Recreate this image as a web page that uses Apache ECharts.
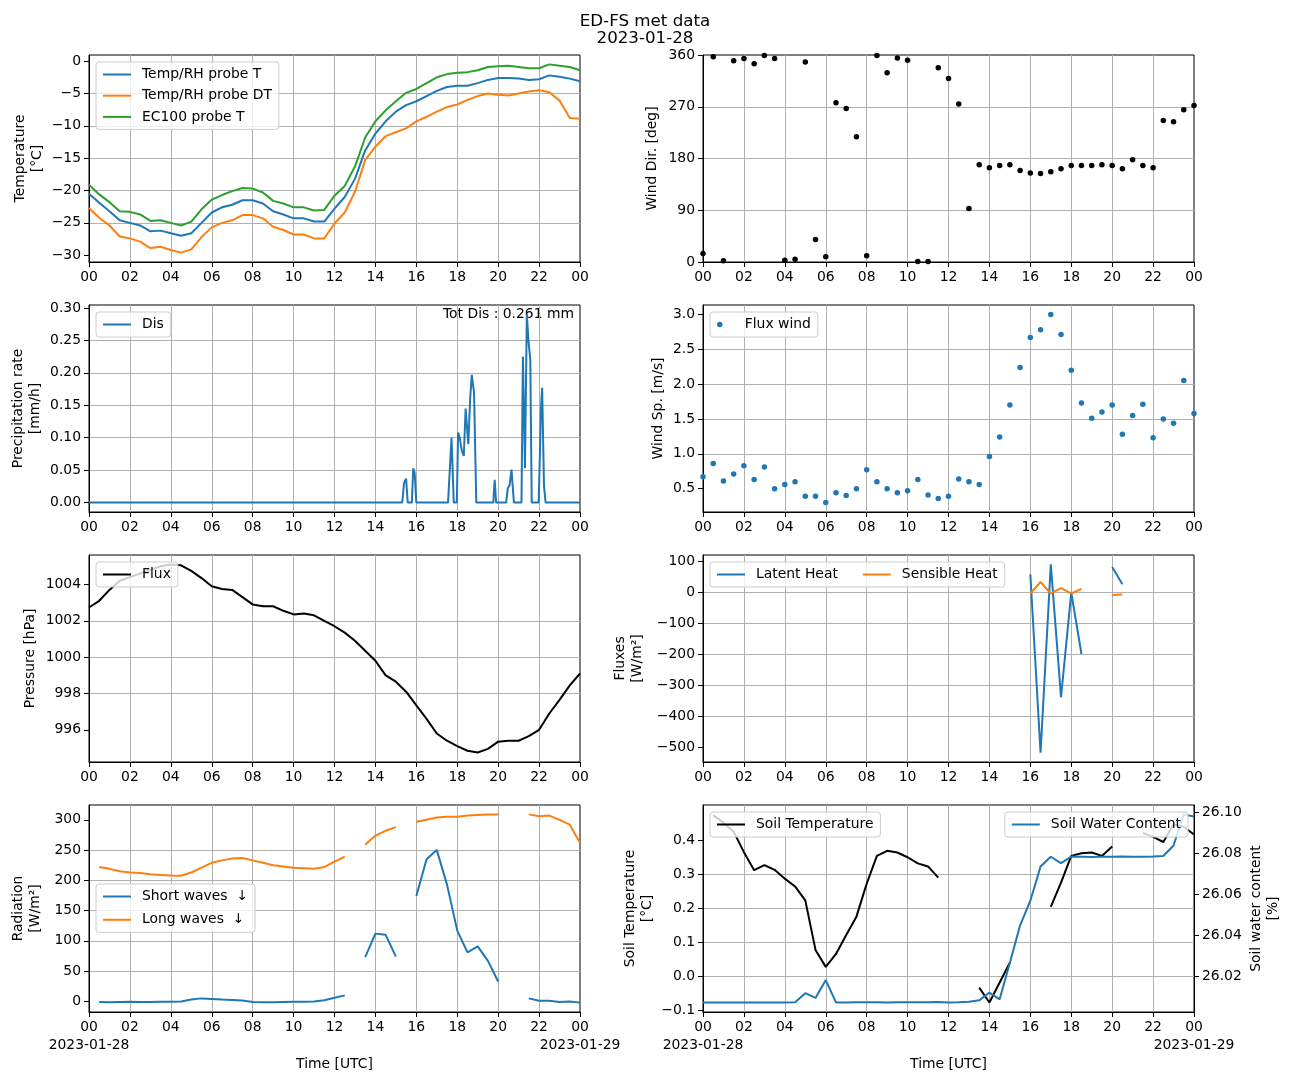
<!DOCTYPE html>
<html>
<head>
<meta charset="utf-8">
<title>ED-FS met data</title>
<script src="https://cdn.jsdelivr.net/npm/echarts@6/dist/echarts.min.js"></script>
<style>
  html, body { margin: 0; padding: 0; background: #fff; }
  #chart { width: 1290px; height: 1082px; }
</style>
</head>
<body>
<div id="chart"></div>
<script>
// time stamps, hours since 2023-01-28 00:00 UTC
var halfHours = [0,0.5,1,1.5,2,2.5,3,3.5,4,4.5,5,5.5,6,6.5,7,7.5,8,8.5,9,9.5,10,10.5,11,11.5,
  12,12.5,13,13.5,14,14.5,15,15.5,16,16.5,17,17.5,18,18.5,19,19.5,20,20.5,21,21.5,22,22.5,23,23.5,24];
var dateHours = [0, 24];
var dateLabels = ['2023-01-28', '2023-01-29'];

// temperatures [°C]
var probeT = [-20.5,-21.9,-23.2,-24.6,-25.0,-25.4,-26.3,-26.2,-26.6,-27.0,-26.6,-25.0,-23.4,-22.6,-22.2,-21.5,-21.5,-22.0,-23.2,-23.7,-24.3,-24.3,-24.8,-24.8,
  -22.8,-21.0,-18.2,-13.8,-11.2,-9.3,-7.8,-6.8,-6.2,-5.4,-4.6,-4.0,-3.8,-3.8,-3.4,-2.9,-2.6,-2.6,-2.7,-2.9,-2.8,-2.2,-2.4,-2.7,-3.1];
var probeDT = [-22.7,-24.2,-25.4,-27.1,-27.4,-27.9,-28.9,-28.7,-29.2,-29.6,-29.1,-27.2,-25.7,-25.0,-24.6,-23.8,-23.8,-24.3,-25.6,-26.1,-26.8,-26.8,-27.4,-27.4,
  -25.1,-23.4,-20.2,-15.3,-13.2,-11.6,-11.0,-10.4,-9.3,-8.6,-7.8,-7.1,-6.7,-6.0,-5.4,-5.0,-5.2,-5.3,-5.0,-4.7,-4.5,-4.8,-6.1,-8.8,-8.9];
var ec100T = [-19.1,-20.6,-21.8,-23.2,-23.3,-23.7,-24.7,-24.6,-25.0,-25.4,-24.8,-22.9,-21.4,-20.7,-20.1,-19.6,-19.7,-20.3,-21.6,-22.0,-22.6,-22.6,-23.1,-23.0,
  -20.8,-19.3,-16.3,-11.8,-9.3,-7.6,-6.2,-4.9,-4.3,-3.4,-2.5,-2.0,-1.8,-1.7,-1.4,-0.9,-0.8,-0.7,-0.9,-1.1,-1.1,-0.5,-0.7,-0.9,-1.4];
var tempTicks = [-30,-25,-20,-15,-10,-5,0];

// wind direction [deg]
var windDir = [15,357,2,350,354,345,359,354,3,5,348,39,9,277,267,218,11,359,329,355,351,1,1,338,
  319,275,93,169,164,168,169,159,155,154,157,162,168,168,168,169,168,162,178,168,164,246,244,265,272];
var dirTicks = [0,90,180,270,360];

// precipitation rate [mm/h]
var disHours = [0,15.31,15.4,15.5,15.58,15.78,15.85,15.92,16.0,17.55,17.72,17.83,17.98,18.04,18.12,18.22,18.32,18.41,18.54,18.63,18.71,18.82,18.93,
  19.76,19.83,19.9,20.39,20.47,20.56,20.65,20.77,21.14,21.21,21.31,21.4,21.48,21.57,21.64,21.98,22.1,22.15,22.24,22.32,24];
var disRate = [0,0,0.03,0.037,0,0,0.053,0.045,0,0,0.1,0,0,0.108,0.1,0.08,0.072,0.145,0.09,0.16,0.197,0.17,0,
  0,0.035,0,0,0.022,0.027,0.051,0,0,0.225,0.053,0.29,0.25,0.22,0,0,0.15,0.177,0.025,0,0];
var disTicks = [0,0.05,0.10,0.15,0.20,0.25,0.30];
var totDis = '0.261';

// wind speed [m/s]
var windSp = [0.67,0.86,0.61,0.71,0.83,0.63,0.81,0.50,0.56,0.60,0.39,0.39,0.30,0.44,0.40,0.50,0.77,0.60,0.50,0.44,0.47,0.63,0.41,0.36,
  0.39,0.64,0.60,0.56,0.96,1.24,1.70,2.24,2.67,2.78,3.00,2.71,2.20,1.73,1.51,1.60,1.70,1.28,1.55,1.71,1.23,1.50,1.44,2.05,1.58];
var spTicks = [0.5,1.0,1.5,2.0,2.5,3.0];

// pressure [hPa]
var pressure = [1002.73,1003.1,1003.7,1004.2,1004.4,1004.6,1004.8,1005.0,1005.1,1005.05,1004.75,1004.35,1003.9,1003.75,1003.7,1003.3,1002.9,1002.8,1002.8,1002.55,1002.35,1002.4,1002.3,1002.0,
  1001.7,1001.35,1000.9,1000.35,999.8,999.0,998.65,998.1,997.35,996.6,995.8,995.4,995.1,994.85,994.75,994.95,995.35,995.4,995.4,995.65,996.0,996.9,997.65,998.45,999.1];
var presTicks = [996,998,1000,1002,1004];

// turbulent fluxes [W/m2]
var fluxHours = [16,16.5,17,17.5,18,18.5,19,19.5,20,20.5];
var latentHeat = [57,-518,89,-339,-2,-200,null,null,80,25];
var sensibleHeat = [-5,32,-5,12,-5,10,null,null,-10,-8];
var fluxTicks = [-500,-400,-300,-200,-100,0,100];

// downwelling radiation [W/m2]
var shortWaves = [null,-1,-1.5,-1,-0.5,-1,-1,-0.5,-0.5,0,3,5,4,3,2.5,1.5,-1,-1.5,-1.5,-1,-0.5,-0.5,0,2,
  6,10,null,73,112,110,74,null,174,235,250,193,117,81,91,67,33,null,null,5,1,1,-1,0,-2];
var longWaves = [null,222,219,215,213,212,210,209,208,207.5,213,221,229,233,236,237,233,229,225,223,221,220,219,222,
  231,239,null,259,274,282,288,null,297,300,304,305,305,307,308,309,309,null,null,309,306,307,300,292,262];
var radTicks = [0,50,100,150,200,250,300];

// soil
var soilTemp = [null,0.474,0.452,0.425,0.365,0.312,0.327,0.313,0.287,0.264,0.223,0.077,0.027,0.065,0.121,0.175,0.272,0.354,0.369,0.364,0.35,0.332,0.323,0.29,
  null,null,null,-0.034,-0.078,-0.019,0.039,null,null,null,0.204,0.275,0.354,0.362,0.364,0.354,0.382,null,null,0.422,0.41,0.395,0.447,0.44,0.417];
var soilWater = [26.0070,26.0071,26.0071,26.0071,26.0071,26.0071,26.0070,26.0071,26.0071,26.0072,26.0116,26.0093,26.0180,26.0071,26.0071,26.0072,26.0072,26.0072,26.0071,26.0072,26.0072,26.0072,26.0072,26.0073,
  26.0071,26.0072,26.0074,26.0081,26.0119,26.0086,26.0265,26.0448,26.0568,26.0735,26.0783,26.0752,26.0784,26.0783,26.0782,26.0783,26.0783,26.0784,26.0783,26.0783,26.0784,26.0787,26.0838,26.0990,26.0980];
var soilTTicks = [-0.1,0.0,0.1,0.2,0.3,0.4];
var soilWTicks = [26.02,26.04,26.06,26.08,26.10];

var FONT = 'DejaVu Sans';
var FS = 13.9;
var GRID_COLOR = '#b0b0b0';
var C0 = '#1f77b4', C1 = '#ff7f0e', C2 = '#2ca02c';

function zip(xs, ys) {
  return xs.map(function (x, i) { return [x, ys[i] == null ? '-' : ys[i]]; });
}

function fmtNum(v, d) {
  var s = v.toFixed(d);
  if (s.charAt(0) === '-') s = parseFloat(s) === 0 ? s.slice(1) : '\u2212' + s.slice(1);
  return s;
}

var colLeft = [89, 703];
var rowTop = [55, 305, 555, 805];
var plotW = 491, plotH = 207;

var grids = [];
rowTop.forEach(function (top) {
  colLeft.forEach(function (left) {
    grids.push({
      left: left, top: top, width: plotW, height: plotH,
      show: true, borderColor: '#000', borderWidth: 1, backgroundColor: 'transparent',
      containLabel: false, outerBoundsMode: 'none'
    });
  });
});

var nameStyle = { color: '#000', fontFamily: FONT, fontSize: FS, lineHeight: 17 };

function xAxisCfg(gridIndex, bottomRow) {
  return {
    type: 'value', gridIndex: gridIndex, position: 'bottom', min: 0, max: 24, interval: 2,
    axisLine: { show: true, onZero: false, lineStyle: { color: '#000', width: 1 } },
    axisTick: { show: true, length: 5, lineStyle: { color: '#000' } },
    axisLabel: {
      color: '#000', fontFamily: FONT, fontSize: FS, margin: 8,
      showMinLabel: true, showMaxLabel: true, hideOverlap: false,
      formatter: function (v) { return String(v % 24).padStart(2, '0'); }
    },
    splitLine: { show: true, showMinLine: false, showMaxLine: false, lineStyle: { color: GRID_COLOR, width: 1 } },
    name: bottomRow ? 'Time [UTC]' : '', nameLocation: 'middle', nameGap: 44, nameTextStyle: nameStyle
  };
}

// second label row under the bottom plots: the dates at both ends of the day
function dateAxisCfg(gridIndex) {
  return {
    type: 'value', gridIndex: gridIndex, position: 'bottom', min: 0, max: 24,
    axisLine: { show: false, onZero: false },
    axisTick: { show: false, customValues: dateHours },
    splitLine: { show: false },
    axisLabel: {
      customValues: dateHours, color: '#000', fontFamily: FONT, fontSize: FS, margin: 26,
      showMinLabel: true, showMaxLabel: true, hideOverlap: false,
      formatter: function (v) { return dateLabels[dateHours.indexOf(v)]; }
    }
  };
}

function yAxisCfg(gridIndex, min, max, ticks, dec, name, gap, position, gridOn) {
  return {
    type: 'value', gridIndex: gridIndex, position: position || 'left', min: min, max: max,
    axisLine: { show: true, onZero: false, lineStyle: { color: '#000', width: 1 } },
    axisTick: { show: true, length: 5, customValues: ticks, lineStyle: { color: '#000' } },
    axisLabel: {
      customValues: ticks, color: '#000', fontFamily: FONT, fontSize: FS, margin: 8,
      formatter: function (v) { return fmtNum(v, dec); }
    },
    splitLine: { show: gridOn !== false, showMinLine: false, showMaxLine: false, lineStyle: { color: GRID_COLOR, width: 1 } },
    name: name, nameLocation: 'middle', nameRotate: 90, nameGap: gap, nameTextStyle: nameStyle
  };
}

var xAxes = [];
for (var g = 0; g < 8; g++) xAxes.push(xAxisCfg(g, g >= 6));
xAxes.push(dateAxisCfg(6), dateAxisCfg(7));

var yAxes = [
  yAxisCfg(0, -31.05, 0.95, tempTicks, 0, 'Temperature\n[\u00b0C]', 43),
  yAxisCfg(1, 0, 360, dirTicks, 0, 'Wind Dir. [deg]', 42),
  yAxisCfg(2, -0.0145, 0.3045, disTicks, 2, 'Precipitation rate\n[mm/h]', 45),
  yAxisCfg(3, 0.165, 3.135, spTicks, 1, 'Wind Sp. [m/s]', 36),
  yAxisCfg(4, 994.23, 1005.62, presTicks, 0, 'Pressure [hPa]', 50),
  yAxisCfg(5, -548, 119, fluxTicks, 0, 'Fluxes\n[W/m\u00b2]', 57),
  yAxisCfg(6, -17.5, 324.5, radTicks, 0, 'Radiation\n[W/m\u00b2]', 45),
  yAxisCfg(7, -0.106, 0.504, soilTTicks, 1, 'Soil Temperature\n[\u00b0C]', 47.5),
  yAxisCfg(7, 26.0024, 26.1036, soilWTicks, 2, 'Soil water content\n[%]', 54, 'right', false)
];

function line(name, xi, yi, xs, ys, color) {
  return {
    type: 'line', name: name, xAxisIndex: xi, yAxisIndex: yi, data: zip(xs, ys),
    showSymbol: false, symbol: 'none', connectNulls: false,
    lineStyle: { color: color, width: 2 }, itemStyle: { color: color }
  };
}

function dots(name, xi, yi, xs, ys, color) {
  return {
    type: 'scatter', name: name, xAxisIndex: xi, yAxisIndex: yi, data: zip(xs, ys),
    symbol: 'circle', symbolSize: 5.5, itemStyle: { color: color, opacity: 1 }
  };
}

var series = [
  line('Temp/RH probe T', 0, 0, halfHours, probeT, C0),
  line('Temp/RH probe DT', 0, 0, halfHours, probeDT, C1),
  line('EC100 probe T', 0, 0, halfHours, ec100T, C2),
  dots('Wind Dir', 1, 1, halfHours, windDir, '#000'),
  line('Dis', 2, 2, disHours, disRate, C0),
  dots('Flux wind', 3, 3, halfHours, windSp, C0),
  line('Flux', 4, 4, halfHours, pressure, '#000'),
  line('Latent Heat', 5, 5, fluxHours, latentHeat, C0),
  line('Sensible Heat', 5, 5, fluxHours, sensibleHeat, C1),
  line('Short waves  \u2193', 6, 6, halfHours, shortWaves, C0),
  line('Long waves  \u2193', 6, 6, halfHours, longWaves, C1),
  line('Soil Temperature', 7, 7, halfHours, soilTemp, '#000'),
  line('Soil Water Content', 7, 8, halfHours, soilWater, C0)
];

function legendCfg(names, place) {
  var cfg = {
    data: names, orient: 'vertical', icon: 'rect', itemWidth: 28, itemHeight: 2, itemGap: 5.2,
    padding: [4.5, 7], backgroundColor: 'rgba(255,255,255,0.8)', borderColor: '#cccccc',
    borderWidth: 1, borderRadius: 3, selectedMode: false,
    textStyle: { color: '#000', fontFamily: FONT, fontSize: FS, lineHeight: 16, padding: [0, 0, 0, 6] }
  };
  return Object.assign(cfg, place);
}

var legends = [
  legendCfg(['Temp/RH probe T', 'Temp/RH probe DT', 'EC100 probe T'], { left: 96, top: 62 }),
  legendCfg(['Dis'], { left: 96, top: 312 }),
  legendCfg([{ name: 'Flux wind', icon: 'circle' }], { left: 710, top: 312, itemHeight: 5.5 }),
  legendCfg(['Flux'], { left: 96, top: 562 }),
  legendCfg(['Latent Heat', 'Sensible Heat'], { left: 710, top: 562, orient: 'horizontal', itemGap: 25 }),
  legendCfg(['Short waves  \u2193', 'Long waves  \u2193'], { left: 96, top: 884, itemGap: 7.3 }),
  legendCfg(['Soil Temperature'], { left: 710, top: 812 }),
  legendCfg(['Soil Water Content'], { right: 102, top: 812 })
];

var chart = echarts.init(document.getElementById('chart'));
chart.setOption({
  animation: false,
  backgroundColor: '#fff',
  textStyle: { fontFamily: FONT },
  title: {
    text: 'ED-FS met data\n' + dateLabels[0], left: 'center', top: 8,
    textStyle: { color: '#000', fontFamily: FONT, fontSize: 16.7, fontWeight: 'normal', lineHeight: 17 }
  },
  grid: grids,
  xAxis: xAxes,
  yAxis: yAxes,
  legend: legends,
  series: series,
  graphic: [{
    type: 'text', x: 574, y: 314,
    style: {
      text: 'Tot Dis : ' + totDis + ' mm', fill: '#000', fontFamily: FONT, fontSize: FS,
      textAlign: 'right', textVerticalAlign: 'middle'
    }
  }]
});
</script>
</body>
</html>
